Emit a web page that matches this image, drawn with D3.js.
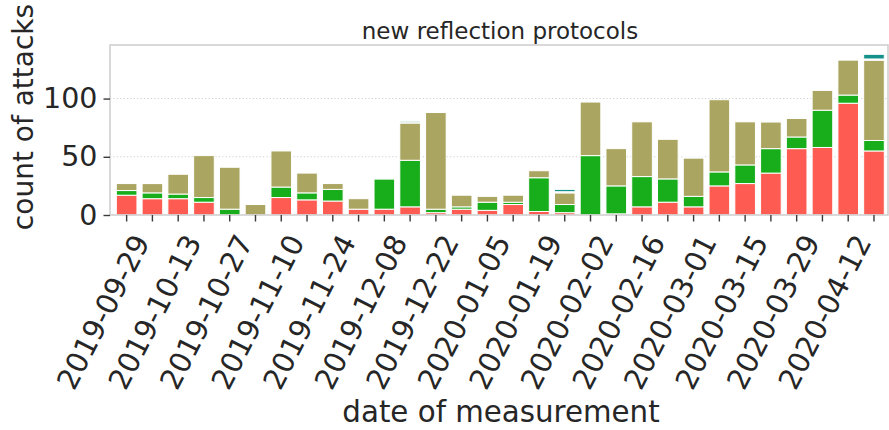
<!DOCTYPE html>
<html>
<head>
<meta charset="utf-8">
<script src="https://cdn.jsdelivr.net/npm/d3@7"></script>
<style>
  html, body { margin: 0; padding: 0; background: #fff; }
  svg text { font-family: "DejaVu Sans", sans-serif; fill: #262626; }
</style>
</head>
<body>
<svg id="chart" width="889" height="430"></svg>
<script>
// Weekly measurement dates
const weeks = [
  "2019-09-29","2019-10-06","2019-10-13","2019-10-20","2019-10-27","2019-11-03",
  "2019-11-10","2019-11-17","2019-11-24","2019-12-01","2019-12-08","2019-12-15",
  "2019-12-22","2019-12-29","2020-01-05","2020-01-12","2020-01-19","2020-01-26",
  "2020-02-02","2020-02-09","2020-02-16","2020-02-23","2020-03-01","2020-03-08",
  "2020-03-15","2020-03-22","2020-03-29","2020-04-05","2020-04-12","2020-04-19"
];

// Attack counts per protocol group (stacked bottom to top)
const seriesRed   = [17,14,14,11,0,0,15,13,12,5,5,7,2,5,4,9,3,2,0,1,7,11,7,25,27,36,57,58,96,55];
const seriesGreen = [4,5,4,4,5,0,9,6,10,0,26,40,3,2,7,2,29,7,51,24,26,20,9,12,16,21,10,32,7,9];
const seriesOlive = [6,8,17,36,36,9,31,17,5,9,0,32,83,10,5,6,6,10,46,32,47,34,33,62,37,23,16,17,30,69];
const seriesPale  = [0,1,0,0,0,0,0,0,0,0,1,2,0,0,0,0,0,1,0,0,0,0,1,0,0,1,1,0,0,1];
const seriesTeal  = [0,0,0,0,0,0,0,0,0,0,0,0,0,0,0,0,0,2,0,0,0,0,0,0,0,0,0,0,0,4];

const yTicks = [0, 50, 100];
const labelEvery = 2;

const seriesKeys = ["red", "green", "olive", "pale", "teal"];
const colors = {
  red: "#fe5b52", green: "#17ad1b", olive: "#aaa561", pale: "#dcece3", teal: "#14918a"
};

const rows = weeks.map((w, i) => ({
  week: w,
  red: seriesRed[i], green: seriesGreen[i], olive: seriesOlive[i],
  pale: seriesPale[i], teal: seriesTeal[i]
}));

const svg = d3.select("#chart");
const plot = { left: 110, right: 888, top: 45, bottom: 215 };

const x = d3.scaleBand()
  .domain(weeks)
  .range([plot.left, plot.right])
  .paddingInner(0.2)
  .paddingOuter(0.195)
  .align(0.63);

const y = d3.scaleLinear()
  .domain([0, 146])
  .range([plot.bottom, plot.top]);

// Horizontal dotted grid
svg.append("g")
  .selectAll("line")
  .data(yTicks.filter(d => d > 0))
  .join("line")
  .attr("x1", plot.left).attr("x2", plot.right)
  .attr("y1", d => y(d)).attr("y2", d => y(d))
  .attr("stroke", "#cfcfcf")
  .attr("stroke-width", 1.1)
  .attr("stroke-dasharray", "1.2,2.2");

// Stacked bars
const stacked = d3.stack().keys(seriesKeys)(rows);
svg.append("g")
  .selectAll("g")
  .data(stacked)
  .join("g")
  .attr("fill", d => colors[d.key])
  .selectAll("rect")
  .data(d => d.filter(s => s[1] - s[0] > 0))
  .join("rect")
  .attr("x", d => x(d.data.week))
  .attr("width", x.bandwidth())
  .attr("y", d => y(d[1]))
  .attr("height", d => y(d[0]) - y(d[1]))
  .attr("stroke", "#ffffff")
  .attr("stroke-width", 1);

// Frame
svg.append("rect")
  .attr("x", plot.left).attr("y", plot.top)
  .attr("width", plot.right - plot.left)
  .attr("height", plot.bottom - plot.top)
  .attr("fill", "none")
  .attr("stroke", "#d0d0d0")
  .attr("stroke-width", 1.6);

// Y axis
const yAxis = svg.append("g")
  .attr("transform", `translate(${plot.left},0)`)
  .call(d3.axisLeft(y).tickValues(yTicks).tickSize(6.5).tickPadding(6));
yAxis.select(".domain").remove();
yAxis.selectAll(".tick line").attr("stroke", "#3a3a3a").attr("stroke-width", 1.4);
yAxis.selectAll(".tick text")
  .attr("font-size", 28.5)
  .attr("font-family", "DejaVu Sans")
  .attr("fill", "#262626");

// X axis: a tick for every week, labels every other week
const xAxis = svg.append("g")
  .attr("transform", `translate(0,${plot.bottom})`)
  .call(d3.axisBottom(x).tickSize(6.5).tickFormat(""));
xAxis.select(".domain").remove();
xAxis.selectAll(".tick line").attr("stroke", "#3a3a3a").attr("stroke-width", 1.4);

xAxis.selectAll(".tick")
  .filter((d, i) => i % labelEvery === 0)
  .append("text")
  .attr("font-size", 29)
  .attr("font-family", "DejaVu Sans")
  .attr("fill", "#262626")
  .attr("text-anchor", "end")
  .attr("dy", "0.73em")
  .attr("transform", "translate(5,17) rotate(-63)")
  .text(d => d);

// Axis titles
svg.append("text")
  .attr("transform", "translate(33,117) rotate(-90)")
  .attr("text-anchor", "middle")
  .attr("font-size", 28)
  .text("count of attacks");

svg.append("text")
  .attr("x", 501).attr("y", 422)
  .attr("text-anchor", "middle")
  .attr("font-size", 29.3)
  .text("date of measurement");

svg.append("text")
  .attr("x", 500).attr("y", 39)
  .attr("text-anchor", "middle")
  .attr("font-size", 23)
  .text("new reflection protocols");
</script>
</body>
</html>
